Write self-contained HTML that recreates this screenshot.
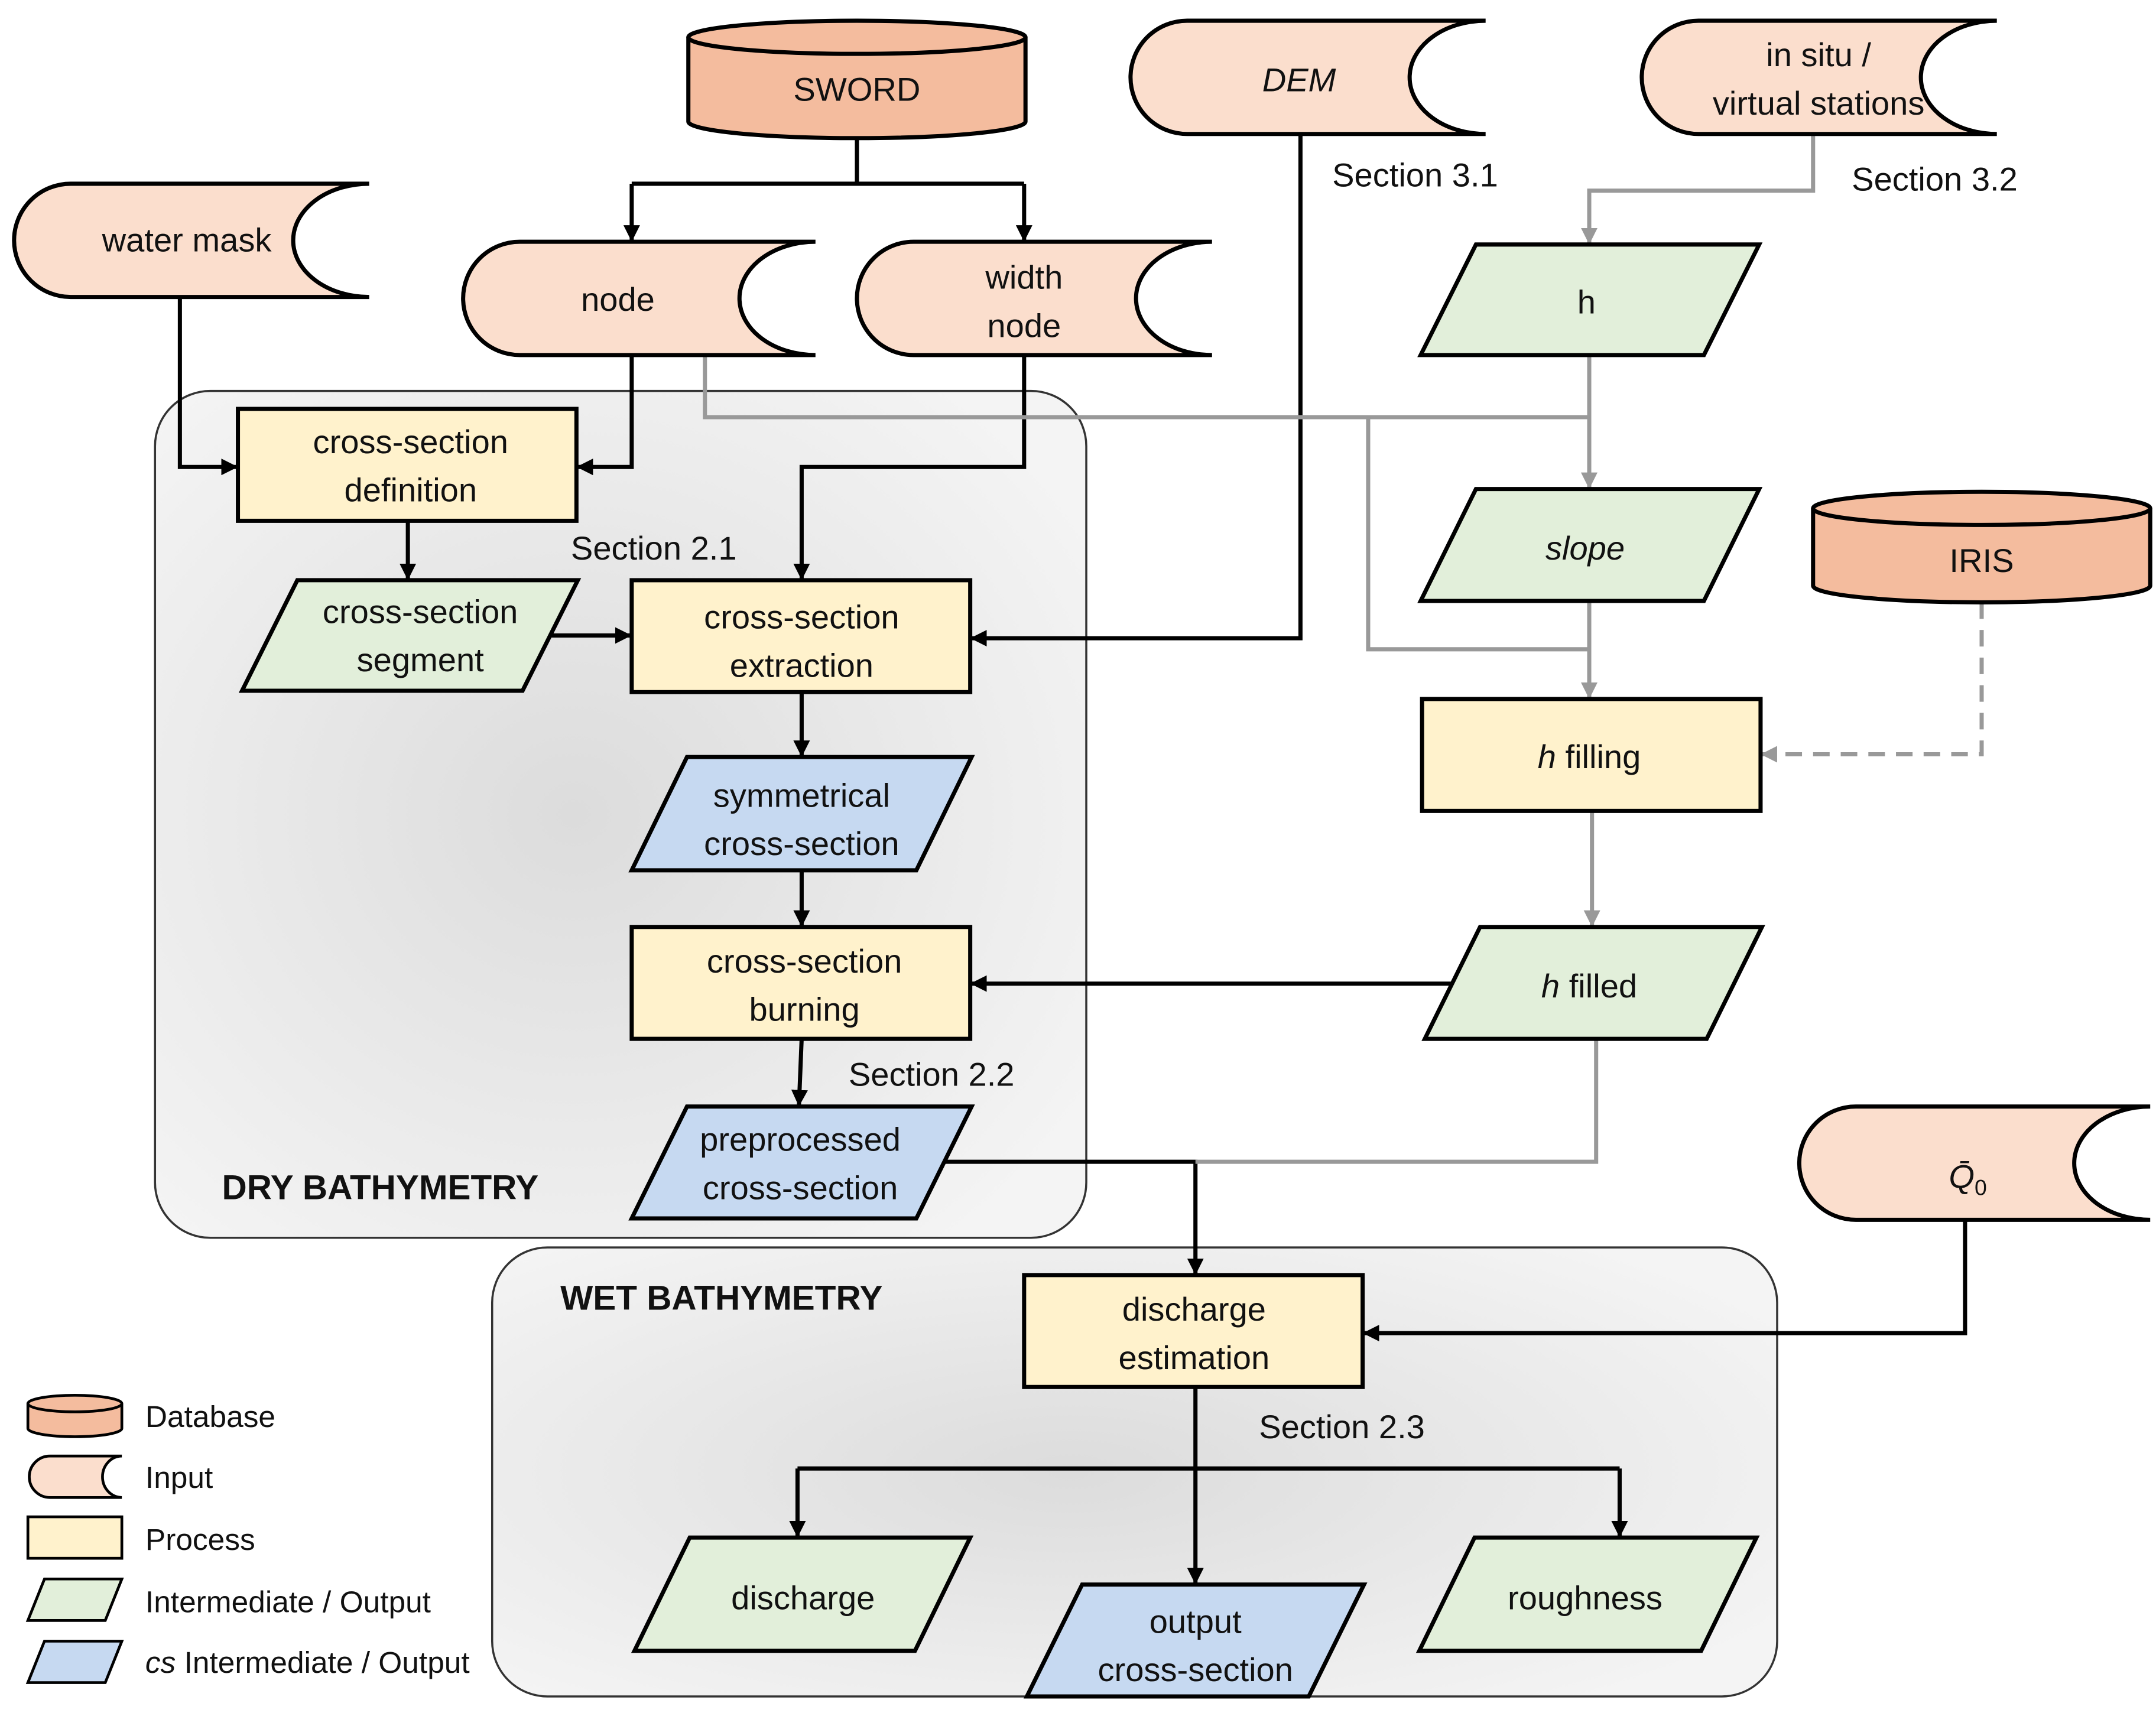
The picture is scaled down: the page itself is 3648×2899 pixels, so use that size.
<!DOCTYPE html>
<html><head><meta charset="utf-8"><style>
html,body{margin:0;padding:0;background:#fff}
svg{display:block}
text{font-family:"Liberation Sans",Arial,sans-serif;font-size:24px;fill:#111;text-anchor:middle}
</style></head><body>
<svg width="3648" height="2899" viewBox="0 0 1560 1240" xmlns="http://www.w3.org/2000/svg">
<defs>
<radialGradient id="g1" cx="45%" cy="50%" r="65%"><stop offset="0" stop-color="#dcdcdc"/><stop offset="1" stop-color="#f4f4f4"/></radialGradient>
<marker id="ab" viewBox="0 0 10 10" refX="10" refY="5" markerWidth="5" markerHeight="5" orient="auto" markerUnits="userSpaceOnUse" style="overflow:visible"><path d="M0,0 L10,5 L0,10 z" fill="#000" transform="scale(1.2)"/></marker>
<marker id="ag" viewBox="0 0 10 10" refX="10" refY="5" markerWidth="12" markerHeight="12" orient="auto" markerUnits="userSpaceOnUse"><path d="M0,0 L10,5 L0,10 z" fill="#999"/></marker>
<marker id="ak" viewBox="0 0 10 10" refX="10" refY="5" markerWidth="12" markerHeight="12" orient="auto" markerUnits="userSpaceOnUse"><path d="M0,0 L10,5 L0,10 z" fill="#000"/></marker>
</defs>

<!-- group boxes -->
<rect x="112" y="283" width="674" height="613" rx="40" fill="url(#g1)" stroke="#333" stroke-width="1.5"/>
<rect x="356" y="903" width="930" height="325" rx="40" fill="url(#g1)" stroke="#333" stroke-width="1.5"/>
<text x="275" y="868" style="font-weight:bold;font-size:25px">DRY  BATHYMETRY</text>
<text x="522" y="948" style="font-weight:bold;font-size:25px">WET BATHYMETRY</text>

<!-- connectors black -->
<g fill="none" stroke="#000" stroke-width="3">
<path d="M620,100 V133 M457,133 H741"/>
<path d="M457,133 V175" marker-end="url(#ak)"/>
<path d="M741,133 V175" marker-end="url(#ak)"/>
<path d="M130,215 V338 H172" marker-end="url(#ak)"/>
<path d="M457,257 V338 H417" marker-end="url(#ak)"/>
<path d="M741,257 V338 H580 V420" marker-end="url(#ak)"/>
<path d="M295,377 V420" marker-end="url(#ak)"/>
<path d="M392,460 H457" marker-end="url(#ak)"/>
<path d="M941,97 V462 H702" marker-end="url(#ak)"/>
<path d="M580,501 V548" marker-end="url(#ak)"/>
<path d="M580,630 V671" marker-end="url(#ak)"/>
<path d="M580,752 L578,801" marker-end="url(#ak)"/>
<path d="M675,841 H865 V923" marker-end="url(#ak)"/>
<path d="M1055,712 H702" marker-end="url(#ak)"/>
<path d="M1422,883 V965 H986" marker-end="url(#ak)"/>
<path d="M865,1004 V1147" marker-end="url(#ak)"/>
<path d="M577,1063 H1172"/>
<path d="M577,1063 V1113" marker-end="url(#ak)"/>
<path d="M1172,1063 V1113" marker-end="url(#ak)"/>
</g>
<!-- connectors gray -->
<g fill="none" stroke="#999" stroke-width="3">
<path d="M1312,97 V138 H1150 V177" marker-end="url(#ag)"/>
<path d="M1150,257 V354" marker-end="url(#ag)"/>
<path d="M510,257 V302 H1150"/>
<path d="M990,302 V470 H1150"/>
<path d="M1150,435 V506" marker-end="url(#ag)"/>
<path d="M1152,587 V671" marker-end="url(#ag)"/>
<path d="M1155,752 V841 H865"/>
<path d="M1434,436 V546 H1274" stroke-dasharray="12,8" marker-end="url(#ag)"/>
</g>

<!-- databases -->
<g stroke="#000" stroke-width="3" fill="#F4BC9E">
<path d="M498,27 V88 A122,12 0 0 0 742,88 V27"/>
<ellipse cx="620" cy="27" rx="122" ry="12"/>
<path d="M1312,368 V424 A122,12 0 0 0 1556,424 V368"/>
<ellipse cx="1434" cy="368" rx="122" ry="12"/>
</g>
<text x="620" y="73">SWORD</text>
<text x="1434" y="414">IRIS</text>

<!-- inputs -->
<g stroke="#000" stroke-width="3" fill="#FBDECD">
<path d="M859,15 H1075 A55,41 0 0 0 1075,97 H859 A41,41 0 0 1 859,15 z"/>
<path d="M1229,15 H1445 A55,41 0 0 0 1445,97 H1229 A41,41 0 0 1 1229,15 z"/>
<path d="M51,133 H267 A55,41 0 0 0 267,215 H51 A41,41 0 0 1 51,133 z"/>
<path d="M376,175 H590 A55,41 0 0 0 590,257 H376 A41,41 0 0 1 376,175 z"/>
<path d="M661,175 H877 A55,41 0 0 0 877,257 H661 A41,41 0 0 1 661,175 z"/>
<path d="M1343,801 H1556 A55,41 0 0 0 1556,883 H1343 A41,41 0 0 1 1343,801 z"/>
</g>
<text x="940" y="66" style="font-style:italic">DEM</text>
<text x="1316" y="48">in situ /</text>
<text x="1316" y="83">virtual stations</text>
<text x="135" y="182">water  mask</text>
<text x="447" y="225">node</text>
<text x="741" y="209">width</text>
<text x="741" y="244">node</text>
<text x="1424" y="860" style="font-style:italic">Q&#772;<tspan style="font-size:16px;font-style:normal" dy="5">0</tspan></text>

<!-- processes -->
<g stroke="#000" stroke-width="3" fill="#FFF2CC">
<rect x="172" y="296" width="245" height="81"/>
<rect x="457" y="420" width="245" height="81"/>
<rect x="457" y="671" width="245" height="81"/>
<rect x="1029" y="506" width="245" height="81"/>
<rect x="741" y="923" width="245" height="81"/>
</g>
<text x="297" y="328">cross-section</text><text x="297" y="363">definition</text>
<text x="580" y="455">cross-section</text><text x="580" y="490">extraction</text>
<text x="582" y="704">cross-section</text><text x="582" y="739">burning</text>
<text x="1150" y="556"><tspan style="font-style:italic">h</tspan> filling</text>
<text x="864" y="956">discharge</text><text x="864" y="991">estimation</text>

<!-- parallelograms green -->
<g stroke="#000" stroke-width="3" fill="#E2EFDA">
<path d="M215,420 H418 L378,500 H175 z"/>
<path d="M1068,177 H1273 L1233,257 H1028 z"/>
<path d="M1068,354 H1273 L1233,435 H1028 z"/>
<path d="M1071,671 H1275 L1235,752 H1031 z"/>
<path d="M499,1113 H702 L662,1195 H459 z"/>
<path d="M1067,1113 H1271 L1231,1195 H1027 z"/>
</g>
<text x="304" y="451">cross-section</text><text x="304" y="486">segment</text>
<text x="1148" y="227">h</text>
<text x="1147" y="405" style="font-style:italic">slope</text>
<text x="1150" y="722"><tspan style="font-style:italic">h</tspan> filled</text>
<text x="581" y="1165">discharge</text>
<text x="1147" y="1165">roughness</text>

<!-- blue -->
<g stroke="#000" stroke-width="3" fill="#C6D9F1">
<path d="M497,548 H703 L663,630 H457 z"/>
<path d="M497,801 H703 L663,882 H457 z"/>
<path d="M783,1147 H987 L947,1228 H743 z"/>
</g>
<text x="580" y="584">symmetrical</text><text x="580" y="619">cross-section</text>
<text x="579" y="833">preprocessed</text><text x="579" y="868">cross-section</text>
<text x="865" y="1182">output</text><text x="865" y="1217">cross-section</text>

<!-- section labels -->
<text x="1024" y="135" style="text-anchor:middle">Section 3.1</text>
<text x="1400" y="138">Section 3.2</text>
<text x="473" y="405">Section 2.1</text>
<text x="674" y="786">Section 2.2</text>
<text x="971" y="1041">Section 2.3</text>

<!-- legend -->
<g stroke="#000" stroke-width="2">
<path d="M20,1016 V1034 A34,6 0 0 0 88,1034 V1016" fill="#F4BC9E"/>
<ellipse cx="54" cy="1016" rx="34" ry="6" fill="#F4BC9E"/>
<path d="M36,1054 H88 A14,15 0 0 0 88,1084 H36 A15,15 0 0 1 36,1054 z" fill="#FBDECD"/>
<rect x="20" y="1098" width="68" height="30" fill="#FFF2CC"/>
<path d="M32,1143 H88 L76,1173 H20 z" fill="#E2EFDA"/>
<path d="M32,1188 H88 L76,1218 H20 z" fill="#C6D9F1"/>
</g>
<g style="text-anchor:start">
<text x="105" y="1033" style="text-anchor:start;font-size:22px">Database</text>
<text x="105" y="1077" style="text-anchor:start;font-size:22px">Input</text>
<text x="105" y="1122" style="text-anchor:start;font-size:22px">Process</text>
<text x="105" y="1167" style="text-anchor:start;font-size:22px">Intermediate / Output</text>
<text x="105" y="1211" style="text-anchor:start;font-size:22px"><tspan style="font-style:italic">cs</tspan> Intermediate / Output</text>
</g>
</svg>
</body></html>
